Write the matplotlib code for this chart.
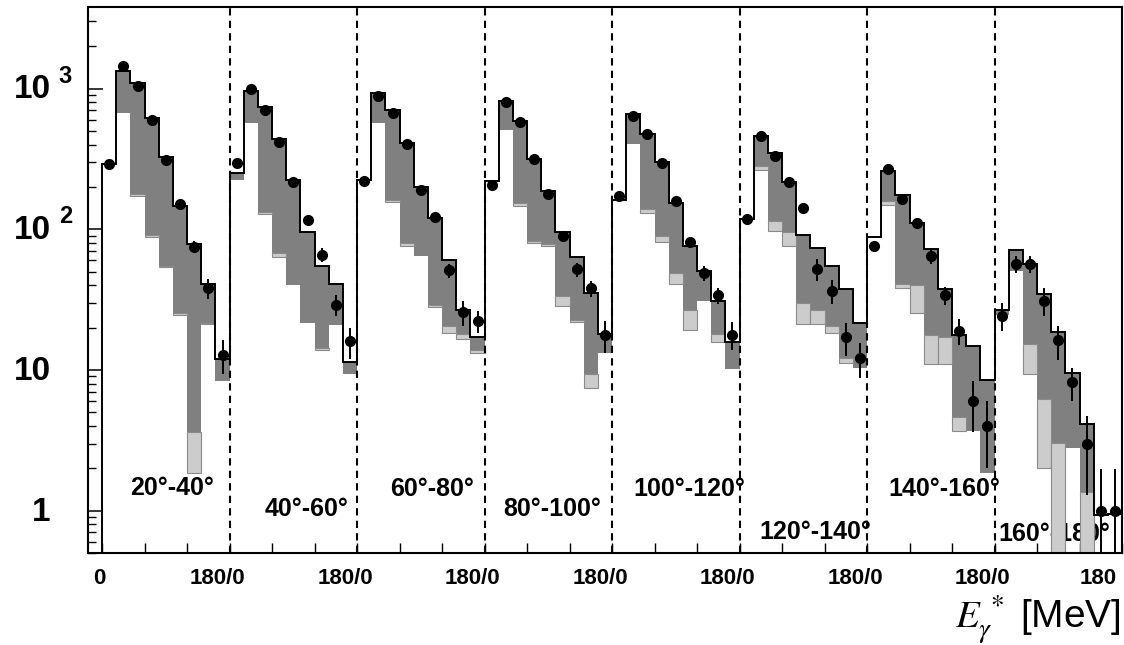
import numpy as np
import matplotlib
matplotlib.use('Agg')
import matplotlib.pyplot as plt
from matplotlib.ticker import LogLocator, NullFormatter

plt.rcParams['font.family'] = ['Liberation Sans', 'DejaVu Sans']
plt.rcParams['mathtext.fontset'] = 'stix'

# angular bins, 9 energy bins of 20 MeV each (0-180 MeV)
panel_labels = ['20°-40°', '40°-60°', '60°-80°', '80°-100°',
                '100°-120°', '120°-140°', '140°-160°', '160°-180°']

# top of the histogram (black outline / top of dark band)
total = [
    [293, 1330, 1100, 620, 328, 146, 79, 40.6, 12.0],
    [253, 966, 743, 438, 224, 96, 55, 41, 11.4],
    [224, 926, 700, 413, 199, 121, 60, 26.5, 17.1],
    [220, 810, 587, 318, 188, 95, 63, 35, 18.1],
    [162, 660, 479, 300, 153, 76, 50.4, 30.7, 15.7],
    [118, 457, 351, 218, 90.5, 73.8, 55, 37.7, 21.6],
    [88, 259, 174, 111, 72.4, 37.7, 17.6, 14.8, 8.5],
    [26.5, 70.8, 56.6, 34.5, 18.7, 9.5, 4.1, 0.93, 0.94],
]
# bottom of the dark grey band
dark_low = [
    [293, 667, 177, 90.5, 55, 25.3, 3.64, 21.7, 8.4],
    [225, 570, 132, 67.5, 40, 21.6, 14.4, 21, 9.3],
    [224, 570, 162, 80.5, 64.5, 28.9, 20.4, 18.1, 13.9],
    [220, 507, 153, 82.8, 78.2, 33.5, 22.5, 9.3, 13.1],
    [162, 402, 140, 89.5, 49, 26.5, 30.7, 18.1, 10.1],
    [118, 283, 114, 96, 30.1, 26.5, 20.7, 12.1, 10.4],
    [88, 158, 41, 40, 17.6, 17.1, 4.6, 3.7, 1.86],
    [24.7, 50.4, 15.2, 6.2, 3.05, 2.8, 1.36, 0.93, 0.94],
]
# bottom of the light grey band
light_low = [
    [293, 667, 172, 88, 54, 24.6, 1.86, 21.2, 8.4],
    [225, 570, 128, 64, 40, 21.6, 13.9, 21, 9.3],
    [224, 570, 155, 76, 64.5, 27.8, 18.4, 16.6, 13.1],
    [220, 507, 146, 79.6, 76, 28.5, 21.9, 7.4, 13.1],
    [162, 402, 130, 81.5, 41, 19.2, 30.7, 15.7, 10.1],
    [118, 262, 97, 76, 21.2, 21.2, 18.4, 11.2, 10.4],
    [88, 149, 38, 25.3, 11, 11, 3.7, 3.7, 1.86],
    [24.7, 50.4, 9.3, 2.0, 0.05, 2.8, 0.05, 0.93, 0.94],
]
# measured points and errors
data = [
    [293, 1450, 1040, 600, 312, 150, 75, 38, 12.8],
    [294, 993, 708, 419, 218, 116, 66, 29, 16],
    [220, 885, 667, 402, 191, 123, 51, 25.7, 22.3],
    [205, 800, 575, 315, 177, 89, 52, 38, 17.8],
    [172, 641, 479, 294, 158, 81.5, 49, 33.9, 17.8],
    [118, 457, 330, 218, 142, 52, 36.5, 17.1, 12.1],
    [76, 270, 165, 110, 65, 34, 19, 6, 4],
    [24.3, 57, 57, 31, 16.2, 8.2, 3.0, 1.0, 1.0],
]
errors = [
    [8, 40, 30, 20, 12, 8, 7, 6, 3.5],
    [8, 30, 20, 15, 10, 8, 7, 5, 4],
    [7, 30, 20, 15, 10, 8, 6, 5, 4],
    [7, 25, 20, 14, 10, 7, 6, 5, 4.5],
    [7, 25, 20, 14, 10, 7, 6, 4.5, 4],
    [6, 20, 15, 12, 10, 9, 7, 4.5, 3.4],
    [7, 15, 12, 10, 8, 5, 4, 2.4, 2.0],
    [5.5, 8, 8, 7, 4.5, 2.2, 1.7, 0.99, 0.99],
]
label_x = [99, 289, 466, 635, 829, 1007, 1189, 1344]
label_y = [1.45, 1.02, 1.42, 1.02, 1.42, 0.70, 1.42, 0.68]

ytick_vals = [1, 10, 100, 1000]
ytick_main = ['1', '10', '10', '10']
ytick_sup = ['', '', '2', '3']
xtick_text = ['0'] + ['180/0'] * 7 + ['180']
xtick_pos = [-4] + [180 * i - 17 for i in range(1, 8)] + [1406]

tot = np.concatenate(total)
mid = np.concatenate(dark_low)
low = np.concatenate(light_low)
pts = np.concatenate(data)
err = np.concatenate(errors)
edges = np.arange(0, 1441, 20)
left = edges[:-1]
centers = left + 10

fig = plt.figure(figsize=(11.24, 6.45), dpi=100)
ax = fig.add_axes([88 / 1124, 1 - 553 / 645, 1034 / 1124, 546 / 645])
ax.set_yscale('log')
ax.set_xlim(-20, 1440)
ax.set_ylim(0.5, 3800)

# panel labels sit under the grey bands
for lx, ly, txt in zip(label_x, label_y, panel_labels):
    ax.text(lx, ly, txt, ha='center', va='center', fontsize=18,
            fontweight='bold', zorder=0.5)

ax.bar(left, tot - mid, bottom=mid, width=20, align='edge',
       color='#808080', lw=0, zorder=2)
m = mid > low
ax.bar(left[m], (mid - low)[m], bottom=low[m], width=20, align='edge',
       color='#cccccc', edgecolor='#8a8a8a', lw=0.8, zorder=2)
ax.stairs(tot, edges, baseline=0.01, color='k', lw=1.4, zorder=3)

for i in range(1, 8):
    ax.axvline(180 * i, color='k', ls=(0, (3.5, 2.5)), lw=1.5, zorder=4)

ax.errorbar(centers, pts, yerr=err, xerr=5, fmt='o', color='k', ms=7,
            elinewidth=1.4, capsize=0, zorder=5)

for s in ax.spines.values():
    s.set_linewidth(1.5)
ax.set_xticks(np.arange(0, 1441, 60))
ax.tick_params(axis='x', direction='in', length=7, width=1,
               labelbottom=False)
ax.yaxis.set_minor_locator(LogLocator(base=10, subs=np.arange(2, 10)))
ax.yaxis.set_minor_formatter(NullFormatter())
ax.tick_params(axis='y', which='major', direction='in', length=11, width=1.1,
               labelleft=False)
ax.tick_params(axis='y', which='minor', direction='in', length=5.5, width=1)

ytr = ax.get_yaxis_transform()
for v, mtxt, stxt in zip(ytick_vals, ytick_main, ytick_sup):
    ax.annotate(mtxt, xy=(0, v), xycoords=ytr, xytext=(-27, -1),
                textcoords='offset points', ha='right', va='center',
                fontsize=24, fontweight='bold')
    if stxt:
        ax.annotate(stxt, xy=(0, v), xycoords=ytr, xytext=(-21, 9),
                    textcoords='offset points', ha='left', va='center',
                    fontsize=17, fontweight='bold')

xtr = ax.get_xaxis_transform()
for p, t in zip(xtick_pos, xtick_text):
    ax.annotate(t, xy=(p, 0), xycoords=xtr, xytext=(0, -18),
                textcoords='offset points', ha='center', va='center',
                fontsize=16, fontweight='bold')

fig.text(1121 / 1124, 1 - 620 / 645, r'$E_{\gamma}^{\,*}$ [MeV]',
         ha='right', va='center', fontsize=28)

fig.savefig('out.png', dpi=100)
